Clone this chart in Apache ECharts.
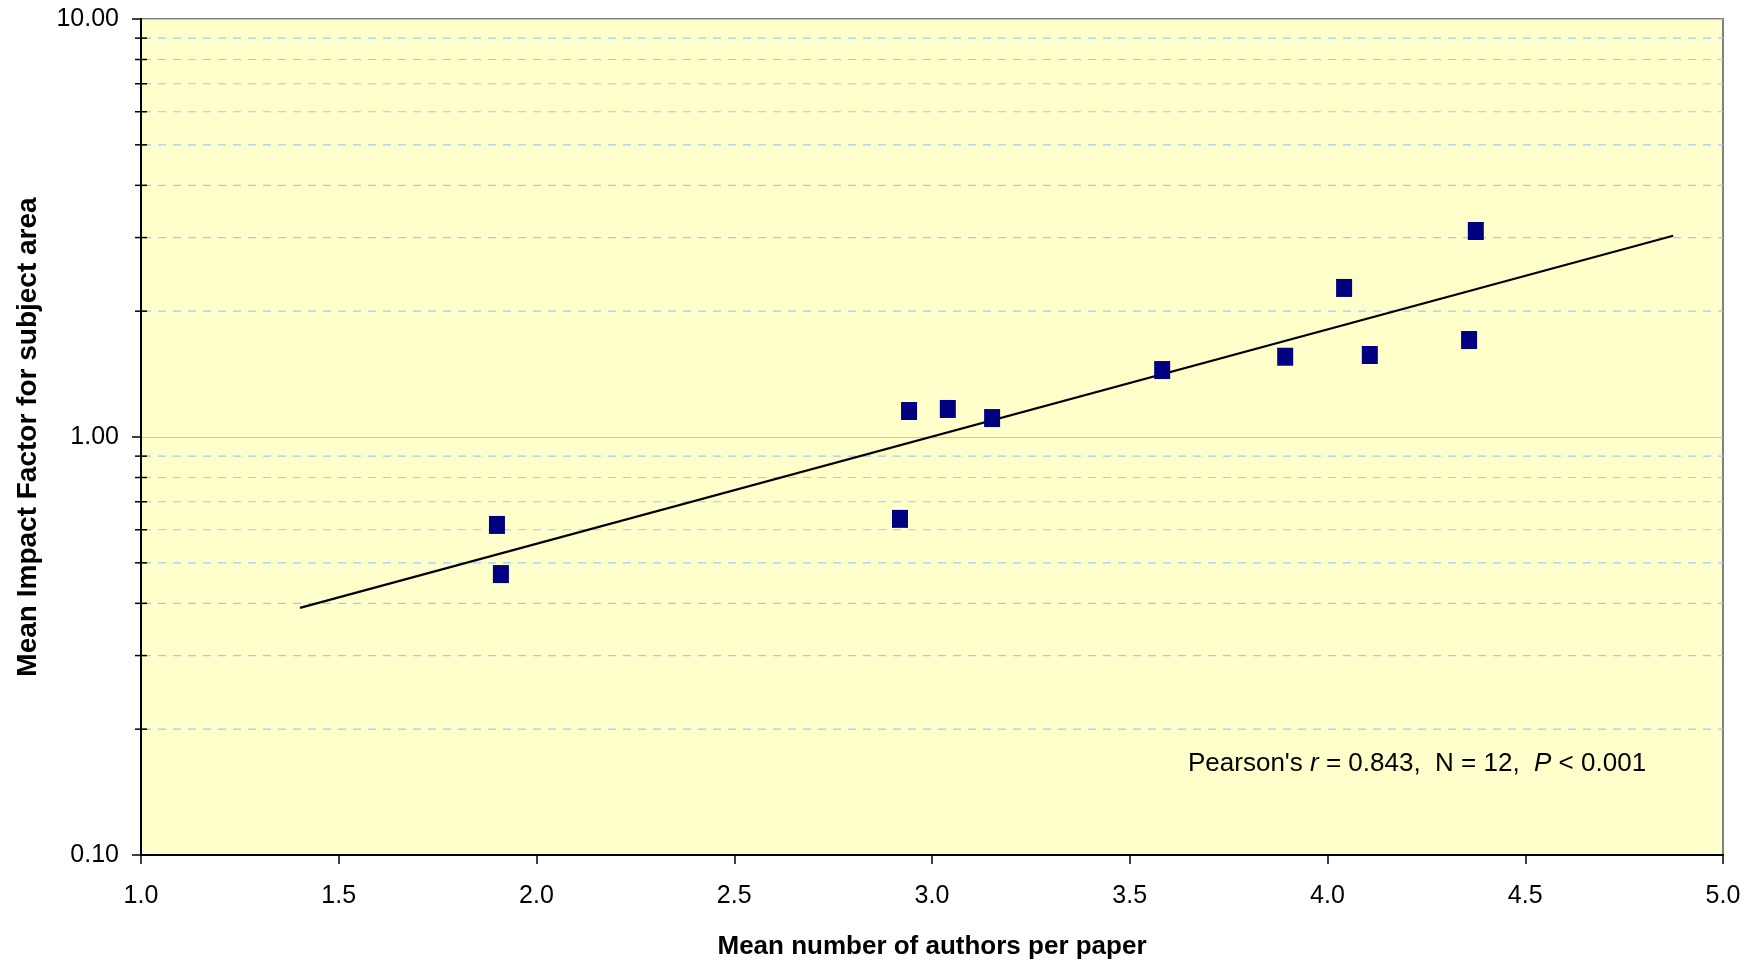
<!DOCTYPE html>
<html>
<head>
<meta charset="utf-8">
<script src="https://cdn.jsdelivr.net/npm/echarts@6/dist/echarts.min.js"></script>
<style>
html,body{margin:0;padding:0;background:#fff;}
#c{width:1754px;height:963px;}
</style>
</head>
<body>
<div id="c"></div>
<script>
// Data
const authorsPerPaper = [1.900, 1.910, 2.919, 2.942, 3.040, 3.152, 3.582, 3.893, 4.042, 4.107, 4.358, 4.375];
const impactFactor    = [0.616, 0.470, 0.637, 1.154, 1.167, 1.110, 1.446, 1.556, 2.273, 1.571, 1.706, 3.110];
const trendX = [1.402, 4.874];
const trendY = [0.390, 3.030];
const minorTickValues = [0.2, 0.3, 0.4, 0.5, 0.6, 0.7, 0.8, 0.9, 2, 3, 4, 5, 6, 7, 8, 9];
const xMin = 1.0, xMax = 5.0, xStep = 0.5;
const yMin = 0.1, yMax = 10;
const xTitle = 'Mean number of authors per paper';
const yTitle = 'Mean Impact Factor for subject area';
const statsText = "Pearson's {i|r} = 0.843,  N = 12,  {i|P} < 0.001";

const FONT = "'Liberation Sans', Arial, sans-serif";
const chart = echarts.init(document.getElementById('c'));

const scatterData = authorsPerPaper.map((x, i) => [x, impactFactor[i]]);
const trendData = trendX.map((x, i) => [x, trendY[i]]);
const minorData = minorTickValues.map(v => [xMin, v]);

chart.setOption({
  animation: false,
  backgroundColor: '#ffffff',
  grid: {
    left: 141, right: 31, top: 19, bottom: 108,
    containLabel: false, outerBoundsMode: 'none',
    show: true, backgroundColor: '#FFFFCC', borderColor: '#808080', borderWidth: 2
  },
  xAxis: {
    type: 'value', min: xMin, max: xMax, interval: xStep,
    name: xTitle, nameLocation: 'middle', nameGap: 79,
    nameTextStyle: {fontFamily: FONT, fontWeight: 'bold', fontSize: 26, color: '#000'},
    axisLine: {show: true, lineStyle: {color: '#000', width: 2}},
    axisTick: {show: true, length: 9, lineStyle: {color: '#000', width: 1.5}},
    axisLabel: {fontFamily: FONT, fontSize: 25, color: '#000', margin: 29,
      formatter: v => v.toFixed(1)},
    splitLine: {show: false}
  },
  yAxis: {
    type: 'log', logBase: 10, min: yMin, max: yMax,
    name: yTitle, nameLocation: 'middle', nameGap: 99,
    nameTextStyle: {fontFamily: FONT, fontWeight: 'bold', fontSize: 28, color: '#000'},
    axisLine: {show: true, lineStyle: {color: '#000', width: 2}},
    axisTick: {show: true, length: 9, lineStyle: {color: '#000', width: 1.5}},
    axisLabel: {fontFamily: FONT, fontSize: 25, color: '#000', margin: 22,
      formatter: v => Number(v).toFixed(2)},
    splitLine: {show: true, lineStyle: {color: '#A8CCEE', width: 1}}
  },
  graphic: [{
    type: 'text', left: 1188, top: 751, z: 100,
    style: {
      text: statsText,
      fontFamily: FONT, fontSize: 26, fill: '#000',
      rich: {i: {fontFamily: FONT, fontSize: 26, fontStyle: 'italic', fill: '#000'}}
    }
  }],
  series: [
    {
      type: 'custom', z: 1, silent: true, clip: false,
      data: minorData, encode: {x: 0, y: 1},
      renderItem: function (params, api) {
        const v = api.value(1);
        const a = api.coord([xMin, v]);
        const b = api.coord([xMax, v]);
        return {
          type: 'group',
          children: [
            {type: 'line', shape: {x1: a[0] + 2, y1: a[1], x2: b[0], y2: b[1]},
              style: {stroke: '#A0CCF4', lineWidth: 1.2, lineDash: [8, 7]}},
            {type: 'line', shape: {x1: a[0] - 6, y1: a[1], x2: a[0] + 6, y2: a[1]},
              style: {stroke: '#000', lineWidth: 1.5}}
          ]
        };
      }
    },
    {
      type: 'line', z: 3, data: trendData, showSymbol: false, symbol: 'none',
      lineStyle: {color: '#000', width: 2.2}, silent: true
    },
    {
      type: 'scatter', z: 4, data: scatterData,
      symbol: 'rect', symbolSize: [16, 18],
      itemStyle: {color: '#000080', opacity: 1}
    }
  ]
});
</script>
</body>
</html>
